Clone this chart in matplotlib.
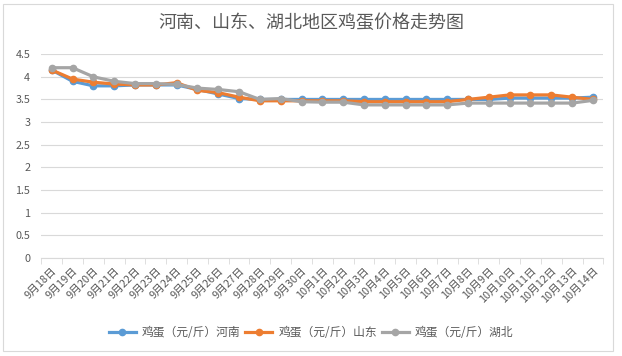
import matplotlib.pyplot as plt
from matplotlib.patches import Rectangle
from matplotlib.ticker import MultipleLocator, FixedLocator

plt.rcParams['font.family'] = ['Noto Sans CJK SC', 'DejaVu Sans']

dates = ['9月18日', '9月19日', '9月20日', '9月21日', '9月22日', '9月23日', '9月24日',
         '9月25日', '9月26日', '9月27日', '9月28日', '9月29日', '9月30日', '10月1日',
         '10月2日', '10月3日', '10月4日', '10月5日', '10月6日', '10月7日', '10月8日',
         '10月9日', '10月10日', '10月11日', '10月12日', '10月13日', '10月14日']

henan = [4.15, 3.90, 3.80, 3.80, 3.82, 3.82, 3.82, 3.72, 3.62, 3.52, 3.50, 3.50, 3.50, 3.50,
         3.50, 3.50, 3.50, 3.50, 3.50, 3.50, 3.50, 3.50, 3.53, 3.53, 3.53, 3.53, 3.55]
shandong = [4.15, 3.95, 3.88, 3.84, 3.82, 3.82, 3.87, 3.70, 3.65, 3.55, 3.47, 3.47, 3.47, 3.47,
            3.47, 3.45, 3.45, 3.45, 3.45, 3.45, 3.50, 3.55, 3.60, 3.60, 3.60, 3.55, 3.50]
hubei = [4.20, 4.20, 4.00, 3.90, 3.85, 3.85, 3.83, 3.75, 3.72, 3.67, 3.50, 3.52, 3.45, 3.44,
         3.44, 3.38, 3.38, 3.38, 3.38, 3.38, 3.42, 3.42, 3.42, 3.42, 3.42, 3.42, 3.48]

series = [('鸡蛋（元/斤）河南', henan, '#5B9BD5'),
          ('鸡蛋（元/斤）山东', shandong, '#ED7D31'),
          ('鸡蛋（元/斤）湖北', hubei, '#A5A5A5')]

fig = plt.figure(figsize=(6.22, 3.56), dpi=100)
ax = fig.add_axes([0.0664, 0.275, 0.9036, 0.573])

# chart border like the Excel chart area
fig.patches.append(Rectangle((0.005, 0.015), 0.98, 0.975, transform=fig.transFigure,
                             fill=False, edgecolor='#D9D9D9', lw=0.8))

x = list(range(len(dates)))
for name, vals, col in series:
    ax.plot(x, vals, color=col, lw=2.3, marker='o', markersize=4.5, label=name)

ax.set_xlim(-0.5, len(dates) - 0.5)
ax.set_ylim(0, 4.5)
ax.yaxis.set_major_locator(MultipleLocator(0.5))
ax.set_yticklabels([f'{v:g}' for v in ax.get_yticks()])
ax.grid(axis='y', color='#D9D9D9', lw=0.8)
ax.set_axisbelow(True)

ax.set_xticks(x)
ax.set_xticklabels(dates, rotation=45, ha='right', rotation_mode='anchor')
ax.xaxis.set_minor_locator(FixedLocator([i - 0.5 for i in range(len(dates) + 1)]))
ax.tick_params(axis='x', which='major', length=0, pad=5, labelsize=7.8, labelcolor='#595959')
ax.tick_params(axis='x', which='minor', length=4, color='#D9D9D9')
ax.tick_params(axis='y', length=0, pad=8, labelsize=7.8, labelcolor='#595959')

for s in ['top', 'right', 'left']:
    ax.spines[s].set_visible(False)
ax.spines['bottom'].set_color('#D9D9D9')

fig.text(0.5, 0.935, '河南、山东、湖北地区鸡蛋价格走势图', ha='center', va='center',
         fontsize=13, color='#595959')

fig.legend(loc='center', bbox_to_anchor=(0.5, 0.065), ncol=3, frameon=False,
           fontsize=8.5, labelcolor='#595959', handlelength=2.3, columnspacing=0.4,
           handletextpad=0.5)

plt.savefig('out.png', dpi=100)
